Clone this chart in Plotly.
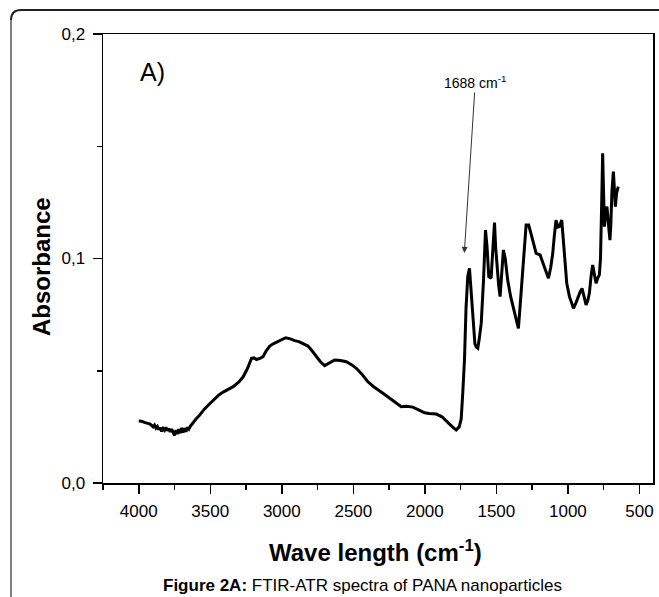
import plotly.graph_objects as go

# ---- data ----
wavenumber = [4000, 3980, 3960, 3940, 3920, 3900, 3890, 3880, 3870, 3860, 3850, 3840, 3830, 3820, 3810,
              3800, 3790, 3780, 3770, 3760, 3750, 3740, 3730, 3720, 3710, 3700, 3690, 3680, 3670, 3660,
              3650, 3640, 3620, 3600, 3580, 3560, 3540, 3520, 3500, 3470, 3440, 3410, 3380, 3340, 3300,
              3270, 3240, 3212, 3195, 3177, 3150, 3131, 3110, 3084, 3060, 3038, 3000, 2973, 2940, 2910,
              2880, 2850, 2817, 2790, 2758, 2730, 2700, 2670, 2631, 2590, 2549, 2510, 2479, 2440, 2400,
              2360, 2320, 2293, 2250, 2200, 2165, 2130, 2084, 2040, 2002, 1970, 1940, 1920, 1880, 1851,
              1820, 1795, 1781, 1760, 1746, 1735, 1723, 1712, 1700, 1688, 1680, 1672, 1660, 1650, 1640,
              1630, 1620, 1606, 1590, 1576, 1565, 1553, 1537, 1525, 1513, 1505, 1495, 1484, 1474, 1462,
              1451, 1438, 1421, 1400, 1385, 1374, 1360, 1346, 1335, 1316, 1300, 1292, 1274, 1260, 1246,
              1222, 1194, 1180, 1164, 1136, 1120, 1106, 1095, 1083, 1070, 1059, 1043, 1035, 1024, 1008,
              989, 975, 961, 945, 932, 915, 901, 887, 873, 860, 850, 838, 827, 815, 803,
              790, 780, 772, 768, 762, 757, 752, 745, 736, 727, 716, 706, 700, 692, 682,
              675, 668, 660, 652, 648]
absorbance = [0.0276, 0.0275, 0.0270, 0.0266, 0.0262, 0.0250, 0.0258, 0.0245, 0.0252, 0.0238, 0.0247, 0.0230, 0.0243, 0.0235, 0.0248,
              0.0233, 0.0242, 0.0228, 0.0240, 0.0226, 0.0212, 0.0236, 0.0218, 0.0240, 0.0222, 0.0245, 0.0225, 0.0244, 0.0228, 0.0248,
              0.0240, 0.0252, 0.0270, 0.0285, 0.0298, 0.0315, 0.0330, 0.0343, 0.0356, 0.0375, 0.0392, 0.0405, 0.0415, 0.0429, 0.0450,
              0.0473, 0.0510, 0.0555, 0.0557, 0.0550, 0.0556, 0.0563, 0.0588, 0.0610, 0.0620, 0.0626, 0.0638, 0.0647, 0.0642, 0.0634,
              0.0630, 0.0620, 0.0610, 0.0590, 0.0563, 0.0540, 0.0523, 0.0535, 0.0548, 0.0546, 0.0540, 0.0526, 0.0511, 0.0485, 0.0452,
              0.0430, 0.0414, 0.0400, 0.0380, 0.0357, 0.0340, 0.0342, 0.0338, 0.0325, 0.0313, 0.0310, 0.0309, 0.0307, 0.0295, 0.0275,
              0.0258, 0.0243, 0.0236, 0.0250, 0.0285, 0.0400, 0.0548, 0.0780, 0.0920, 0.0956, 0.0880, 0.0780, 0.0667, 0.0620, 0.0605,
              0.0600, 0.0640, 0.0711, 0.0900, 0.1127, 0.1050, 0.0919, 0.0912, 0.1050, 0.1160, 0.1050, 0.0964, 0.0880, 0.0830, 0.0950,
              0.1038, 0.1000, 0.0904, 0.0830, 0.0790, 0.0756, 0.0730, 0.0689, 0.0780, 0.0934, 0.1080, 0.1149, 0.1149, 0.1110, 0.1082,
              0.1023, 0.1016, 0.0990, 0.0964, 0.0912, 0.0960, 0.1023, 0.1100, 0.1171, 0.1140, 0.1142, 0.1171, 0.1110, 0.1038, 0.0890,
              0.0830, 0.0800, 0.0778, 0.0800, 0.0823, 0.0850, 0.0867, 0.0830, 0.0793, 0.0815, 0.0845, 0.0920, 0.0971, 0.0930, 0.0890,
              0.0915, 0.0927, 0.1000, 0.1082, 0.1300, 0.1469, 0.1300, 0.1142, 0.1200, 0.1231, 0.1150, 0.1082, 0.1150, 0.1300, 0.1387,
              0.1300, 0.1231, 0.1290, 0.1320, 0.1320]

x_tick_values = [4000, 3500, 3000, 2500, 2000, 1500, 1000, 500]
x_tick_labels = ["4000", "3500", "3000", "2500", "2000", "1500", "1000", "500"]
x_minor_values = [4250, 3750, 3250, 2750, 2250, 1750, 1250, 750]
y_tick_values = [0.0, 0.1, 0.2]
y_tick_labels = ["0,0", "0,1", "0,2"]
y_minor_values = [0.05, 0.15]

arrow_target_x = 1724
arrow_target_y = 0.1025
peak_label = "1688 cm<sup>-1</sup>"

# ---- layout geometry ----
W, H = 659, 597
L, R, T, B = 103, 6, 34, 114
PW, PH = W - L - R, H - T - B
FONT = "Arial, Liberation Sans, sans-serif"


def px(xp):
    return (xp - L) / PW


def py(yp):
    return (H - B - yp) / PH


fig = go.Figure()
fig.add_trace(go.Scatter(x=wavenumber, y=absorbance, mode="lines",
                         line=dict(color="black", width=3), showlegend=False,
                         hoverinfo="skip"))

axis_common = dict(showline=True, linecolor="black", linewidth=1.5, mirror=True,
                   showgrid=False, zeroline=False, ticks="outside", tickcolor="black",
                   tickwidth=1.5, ticklen=9,
                   tickfont=dict(family=FONT, size=17, color="black"))

fig.update_xaxes(range=[4250, 405], tickmode="array", tickvals=x_tick_values,
                 ticktext=x_tick_labels, ticklabelstandoff=3,
                 minor=dict(tickvals=x_minor_values, ticks="outside", ticklen=5,
                            tickwidth=1.5, tickcolor="black", showgrid=False),
                 **axis_common)
fig.update_yaxes(range=[0, 0.2], tickmode="array", tickvals=y_tick_values,
                 ticktext=y_tick_labels, ticklabelstandoff=4,
                 minor=dict(tickvals=y_minor_values, ticks="outside", ticklen=5,
                            tickwidth=1.5, tickcolor="black", showgrid=False),
                 **axis_common)

annotations = [
    dict(text="<b>Wave length (cm<sup>-1</sup>)</b>", x=px(375), y=py(551), xref="paper", yref="paper",
         showarrow=False, xanchor="center", yanchor="middle", font=dict(family=FONT, size=24, color="black")),
    dict(text="<b>Absorbance</b>", x=px(41), y=py(267), xref="paper", yref="paper", textangle=-90,
         showarrow=False, xanchor="center", yanchor="middle", font=dict(family=FONT, size=24, color="black")),
    dict(text="<b>Figure 2A:</b> FTIR-ATR spectra of PANA nanoparticles", x=px(362), y=py(585),
         xref="paper", yref="paper", showarrow=False, xanchor="center", yanchor="middle",
         font=dict(family=FONT, size=17, color="black")),
    dict(text="A)", x=px(152), y=py(72), xref="paper", yref="paper", showarrow=False,
         xanchor="center", yanchor="middle", font=dict(family=FONT, size=25, color="black")),
    dict(text=peak_label, x=arrow_target_x, y=arrow_target_y, xref="x", yref="y",
         showarrow=True, ax=11, ay=-171, arrowhead=2, arrowsize=1.2, arrowwidth=1,
         arrowcolor="#333333", standoff=0, font=dict(family=FONT, size=14, color="black")),
]

# outer rounded frame (extends beyond the visible page on the right and bottom)
fl, ft, fr, fb = px(11), py(10), px(680), py(620)
dx, dy = 10 / PW, 10 / PH
shapes = [
    dict(type="path", xref="paper", yref="paper",
         path=f"M {fl} {fb} L {fl} {ft - dy}", line=dict(color="#7f7f7f", width=2)),
    dict(type="path", xref="paper", yref="paper",
         path=f"M {fl} {ft - dy} Q {fl} {ft} {fl + dx} {ft} L {fr} {ft}",
         line=dict(color="#222222", width=2)),
]

fig.update_layout(width=W, height=H, margin=dict(l=L, r=R, t=T, b=B, autoexpand=False),
                  paper_bgcolor="white", plot_bgcolor="white",
                  annotations=annotations, shapes=shapes,
                  font=dict(family=FONT, color="black"))

fig.write_html("out.html", config={"displayModeBar": False, "staticPlot": True},
               post_script="document.body.style.margin='0px';")
